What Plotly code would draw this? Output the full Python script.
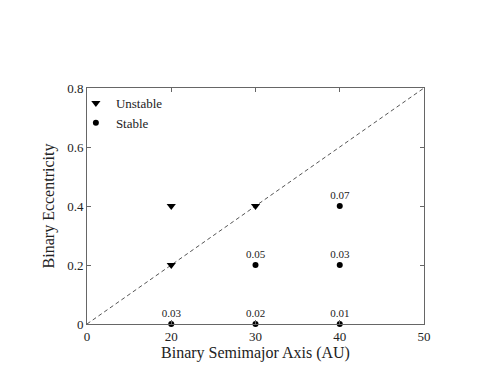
import plotly.graph_objects as go

# binary semimajor axis (AU) and eccentricity
unstable_a = [20, 20, 30]
unstable_e = [0.2, 0.4, 0.4]

stable_a = [20, 30, 40, 30, 40, 40]
stable_e = [0.0, 0.0, 0.0, 0.2, 0.2, 0.4]
stable_lbl = ["0.03", "0.02", "0.01", "0.05", "0.03", "0.07"]

# stability boundary (dashed)
bound_a = [10, 50]
bound_e = [0.0, 0.8]

x_ticks = [10, 20, 30, 40, 50]
x_ticktext = ["0", "20", "30", "40", "50"]
y_ticks = [0, 0.2, 0.4, 0.6, 0.8]
y_ticktext = ["0", "0.2", "0.4", "0.6", "0.8"]

font = "Liberation Serif"

fig = go.Figure()

fig.add_trace(go.Scatter(
    x=bound_a, y=bound_e, mode="lines",
    line=dict(color="#555555", width=1, dash="4px,3px"),
    showlegend=False, hoverinfo="skip",
))
fig.add_trace(go.Scatter(
    x=unstable_a, y=unstable_e, mode="markers", name="Unstable",
    marker=dict(symbol="triangle-down", size=8, color="black"),
    cliponaxis=False,
))
fig.add_trace(go.Scatter(
    x=stable_a, y=stable_e, mode="markers+text", name="Stable",
    marker=dict(symbol="circle", size=6, color="black"),
    text=stable_lbl, textposition="top center",
    textfont=dict(family=font, size=11, color="#222222"),
    cliponaxis=False,
))

axis_common = dict(
    showgrid=False, zeroline=False, showline=True, mirror="ticks",
    linecolor="#666666", linewidth=1, automargin=False,
    ticks="inside", ticklen=4, tickcolor="#666666",
    tickfont=dict(family=font, size=13, color="#222222"),
)

fig.update_xaxes(
    range=[10, 50], tickvals=x_ticks, ticktext=x_ticktext,
    title=dict(text="Binary Semimajor Axis (AU)", font=dict(family=font, size=16, color="#222222"), standoff=4),
    **axis_common,
)
fig.update_yaxes(
    range=[0, 0.8], tickvals=y_ticks, ticktext=y_ticktext,
    title=dict(text="Binary Eccentricity", font=dict(family=font, size=16, color="#222222"), standoff=8),
    **axis_common,
)

fig.update_layout(
    width=496, height=360,
    margin=dict(l=79, r=80, t=80, b=44),
    paper_bgcolor="white", plot_bgcolor="white",
    legend=dict(
        x=-0.033, y=1.0, xanchor="left", yanchor="top",
        bgcolor="rgba(0,0,0,0)",
        font=dict(family=font, size=13, color="#222222"),
        itemwidth=30, tracegroupgap=0,
    ),
)

fig.write_html("out.html")
